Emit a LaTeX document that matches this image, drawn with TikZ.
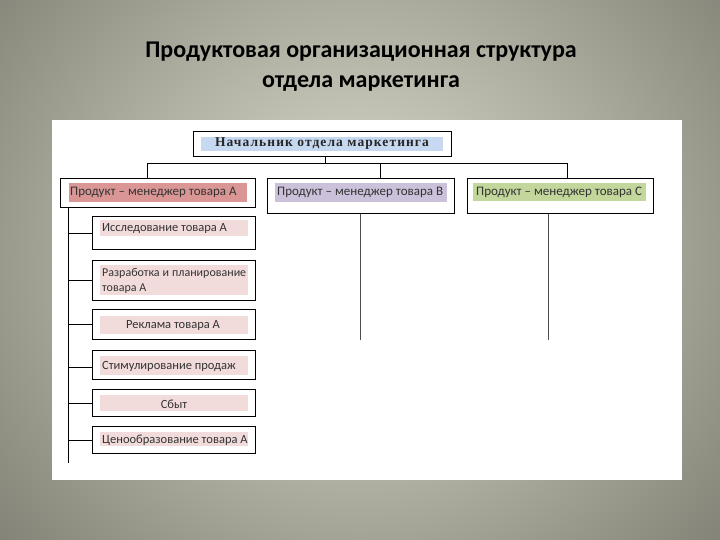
\documentclass[tikz,border=0pt]{standalone}
\usepackage{fontspec}
\setmainfont{Carlito}
\newfontfamily\titlefont{Carlito}
\newfontfamily\serifbold[LetterSpace=8]{Liberation Serif}
\definecolor{bgin}{RGB}{222,222,208}
\definecolor{bgout}{RGB}{130,130,118}
\definecolor{hlblue}{RGB}{198,217,241}
\definecolor{hlred}{RGB}{217,150,148}
\definecolor{hlviolet}{RGB}{204,193,218}
\definecolor{hlgreen}{RGB}{195,214,155}
\definecolor{hlpink}{RGB}{242,220,219}
\begin{document}
\begin{tikzpicture}[x=1pt,y=-1pt,
  box/.style={draw=black, line width=0.9pt, inner sep=0pt, anchor=north west},
  hl/.style={inner sep=0pt, font=\fontsize{12.5}{14}\selectfont, text=black!80},
  mgr/.style={inner sep=0pt, anchor=west, font=\fontsize{13}{15}\selectfont, text=black!80},
  conn/.style={draw=black, line width=0.8pt}]
\useasboundingbox (0,0) rectangle (720,540);
% background
\shade[inner color=bgin, outer color=bgout] (-120,-200) rectangle (840,700);
\fill[white] (52,120) rectangle (682,480);
% title
\node[font=\titlefont\bfseries\fontsize{24}{30}\selectfont, align=center] (title) at (361,67) {Продуктовая организационная структура\\отдела маркетинга};
% top box
\node[box, minimum width=258pt, minimum height=25pt] (top) at (193,131) {};
\fill[hlblue] (201,137) rectangle (443,151);
\node[font=\serifbold\bfseries\fontsize{13.5}{15}\selectfont, text=black!85] (toptext) at (322,144) {Начальник отдела маркетинга};
% second level
\node[box, minimum width=195pt, minimum height=29pt] (A) at (60,178) {};
\node[box, minimum width=187pt, minimum height=35pt] (B) at (267,178) {};
\node[box, minimum width=186pt, minimum height=35pt] (C) at (467,178) {};
\fill[hlred] (69,183) rectangle (247,202);
\fill[hlviolet] (275,183) rectangle (447,202);
\fill[hlgreen] (473,183) rectangle (646,201);
\node[mgr] (At) at (70,192.5) {Продукт – менеджер товара А};
\node[mgr] (Bt) at (277,192.5) {Продукт – менеджер товара В};
\node[mgr] (Ct) at (476,192) {Продукт – менеджер товара С};
% sub boxes
\node[box, minimum width=163pt, minimum height=33pt] (s1) at (92,216) {};
\node[box, minimum width=163pt, minimum height=40pt] (s2) at (92,260) {};
\node[box, minimum width=163pt, minimum height=30pt] (s3) at (92,309) {};
\node[box, minimum width=163pt, minimum height=29pt] (s4) at (92,350) {};
\node[box, minimum width=163pt, minimum height=27pt] (s5) at (92,389) {};
\node[box, minimum width=163pt, minimum height=27pt] (s6) at (92,426) {};
\foreach \ya/\yb in {220/236, 265/295, 316/334, 356/375, 395/411, 432/446}
  \fill[hlpink] (100,\ya) rectangle (248,\yb);
\node[hl, anchor=west] (t1) at (102,229) {Исследование товара А};
\node[hl, anchor=west, align=left, font=\fontsize{12}{15}\selectfont] (t2) at (102,281) {\hbox to 143pt{Разработка\hskip 3pt plus 1fil и\hskip 3pt plus 1fil планирование}\\товара А};
\node[hl, anchor=center] (t3) at (173,325.5) {Реклама товара А};
\node[hl, anchor=west] (t4) at (102,366.5) {Стимулирование продаж};
\node[hl, anchor=center] (t5) at (174,404) {Сбыт};
\node[hl, anchor=west] (t6) at (102,440.5) {Ценообразование товара А};
% connectors
\coordinate (hl1) at (147,163);
\coordinate (hr1) at (567,163);
\coordinate (vbot) at (68,463);
\coordinate (bB) at (360,340);
\coordinate (bC) at (548,340);
\draw[conn] (hl1) -- (hr1);
\draw[conn] ([xshift=3pt]top.south) -- ([xshift=3pt]top.south |- hl1);
\draw[conn] (hl1) -- (hl1 |- A.north);
\draw[conn] ([xshift=19.5pt]B.north |- hl1) -- ([xshift=19.5pt]B.north);
\draw[conn] (hr1) -- (hr1 |- C.north);
\draw[conn] ([xshift=8pt]A.south west) -- (vbot);
\foreach \s in {s1,s2,s3,s5,s6}
  \draw[conn] (\s.west -| vbot) -- (\s.west);
\draw[conn] ([yshift=-2.5pt]s4.west -| vbot) -- ([yshift=-2.5pt]s4.west);
\draw[conn, draw=black!70] (B.south -| bB) -- (bB);
\draw[conn, draw=black!70] (C.south -| bC) -- (bC);
\end{tikzpicture}
\end{document}
